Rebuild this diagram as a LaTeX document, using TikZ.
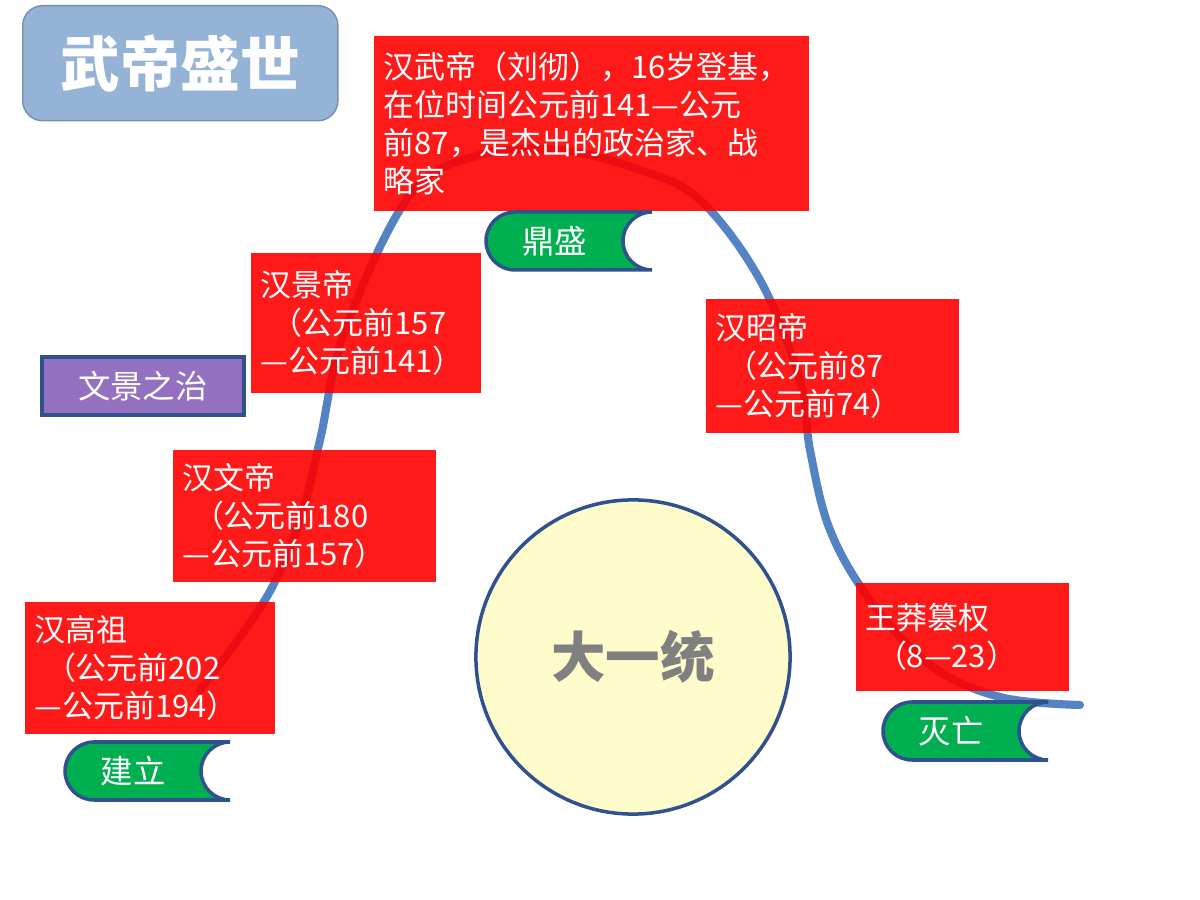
\documentclass[tikz,border=0pt]{standalone}
\usepackage{fontspec}
\setmainfont{Noto Sans CJK SC}
\newfontfamily\cjk{Noto Sans CJK SC}
\definecolor{arcblue}{HTML}{5383C3}
\definecolor{edgeblue}{HTML}{2F528F}
\definecolor{titlefill}{HTML}{95B3D7}
\definecolor{tabgreen}{HTML}{00B050}
\definecolor{wjpurple}{HTML}{9470C0}
\definecolor{boxred}{HTML}{FF0000}
\tikzset{
  redbox/.style={fill=boxred, fill opacity=0.9, text opacity=1, text=white,
    anchor=north west, align=left, inner sep=0.1cm,
    font=\cjk\fontsize{8.8}{10.8}\selectfont},
  tabtext/.style={text=white, font=\cjk\fontsize{9.2}{11}\selectfont}
}
\newcommand\phasetab[4]{% x1, x2, top y, label/name
  \filldraw[fill=tabgreen, draw=edgeblue, line width=1pt]
    (#1+29,#3) -- (#2,#3) arc[start angle=90, end angle=270, radius=29]
    -- (#1+29,#3-58) arc[start angle=270, end angle=90, radius=29] -- cycle;
  \node[tabtext] (#4) at ({(#1+#2-29)/2},#3-29) {#4};
}
\begin{document}
\begin{tikzpicture}[x=0.01cm, y=0.01cm]
\useasboundingbox (0,0) rectangle (1200,900);

% the course of the dynasty
\draw[arcblue, line width=2.3pt, line cap=round] plot[smooth, tension=0.6] coordinates {
  (200,210) (265,300) (300,380) (320,460) (345,570) (410,705) (480,745)
  (560,750) (640,730) (700,700) (760,620) (800,520) (810,450) (830,370)
  (870,300) (930,235) (1000,203) (1080,195)};

% title
\node[fill=titlefill, draw=titlefill!80!black, rounded corners=0.2cm,
  anchor=north west, minimum width=3.15cm, minimum height=1.15cm,
  text=white, font=\cjk\bfseries\fontsize{17}{20}\selectfont] (title) at (22,895) {武帝盛世};

% emperors
\node[redbox, minimum width=4.32cm, minimum height=1.75cm, text width=4.15cm] (wudi) at (373,865)
  {汉武帝（刘彻），16岁登基，\\在位时间公元前141—公元\\前87，是杰出的政治家、战\\略家};
\node[redbox, minimum width=2.27cm, minimum height=1.4cm, text width=2.1cm] (jingdi) at (250,648)
  {汉景帝\\\ （公元前157\\—公元前141）};
\node[redbox, minimum width=2.5cm, minimum height=1.34cm, text width=2.33cm] (zhaodi) at (705,602)
  {汉昭帝\\\ （公元前87\\—公元前74）};
\node[redbox, minimum width=2.6cm, minimum height=1.32cm, text width=2.43cm] (wendi) at (172,451)
  {汉文帝\\\ （公元前180\\—公元前157）};
\node[redbox, minimum width=2.46cm, minimum height=1.32cm, text width=2.3cm] (gaozu) at (24,299)
  {汉高祖\\\ （公元前202\\—公元前194）};
\node[redbox, minimum width=2.1cm, minimum height=1.08cm, text width=1.93cm] (wangmang) at (855,318)
  {王莽篡权\\\ （8—23）};

% phases
\phasetab{65}{230}{158}{建立}
\phasetab{486}{652}{688}{鼎盛}
\phasetab{883}{1048}{198}{灭亡}

\node[fill=wjpurple, draw=edgeblue, line width=1pt, anchor=north west,
  minimum width=2.02cm, minimum height=0.58cm, text=white,
  font=\cjk\fontsize{9.2}{11}\selectfont] (wenjing) at (40,545) {文景之治};

% unity
\node[circle, fill=yellow!20, draw=edgeblue, line width=1pt, minimum size=3.14cm,
  text=black!50, font=\cjk\bfseries\fontsize{15.5}{18}\selectfont] (unity) at (633,243) {大一统};
\end{tikzpicture}
\end{document}
